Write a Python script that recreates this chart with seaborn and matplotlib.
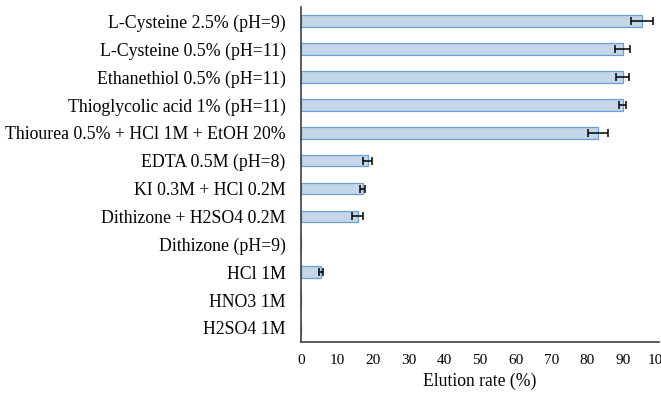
import matplotlib
matplotlib.use("Agg")
import matplotlib.pyplot as plt
import seaborn as sns
import pandas as pd

eluents = [
    "L-Cysteine 2.5% (pH=9)",
    "L-Cysteine 0.5% (pH=11)",
    "Ethanethiol 0.5% (pH=11)",
    "Thioglycolic acid 1% (pH=11)",
    "Thiourea 0.5% + HCl 1M + EtOH 20%",
    "EDTA 0.5M (pH=8)",
    "KI 0.3M + HCl 0.2M",
    "Dithizone + H2SO4 0.2M",
    "Dithizone (pH=9)",
    "HCl 1M",
    "HNO3 1M",
    "H2SO4 1M",
]
elution_rate = [95.3, 89.8, 89.8, 89.8, 83.0, 18.6, 17.2, 15.8, 0.0, 5.7, 0.0, 0.0]
error = [3.0, 2.2, 1.9, 1.0, 2.8, 1.3, 0.65, 1.5, 0.0, 0.55, 0.0, 0.0]

df = pd.DataFrame({"eluent": eluents, "rate": elution_rate, "err": error})

sns.set_style("white")
plt.rcParams['font.family'] = ['Liberation Serif', 'DejaVu Serif']
plt.rcParams['text.color'] = 'black'
plt.rcParams['xtick.color'] = 'black'
plt.rcParams['ytick.color'] = 'black'
plt.rcParams['axes.labelcolor'] = 'black'

fig = plt.figure(figsize=(6.61, 3.99), dpi=100)
ax = fig.add_axes([0.4554, 0.143, 0.5416, 0.839])

sns.barplot(data=df, x="rate", y="eluent", orient="h", color="#BDD7EE",
            edgecolor="#6A9FD8", linewidth=0.9, width=0.42, errorbar=None, ax=ax)

ys = range(len(eluents))
mask = [e > 0 for e in error]
ax.errorbar([r for r, m in zip(elution_rate, mask) if m],
            [y for y, m in zip(ys, mask) if m],
            xerr=[e for e, m in zip(error, mask) if m],
            fmt="none", ecolor="black", elinewidth=1.1, capsize=3, capthick=1.1)

ax.set_xlim(0, 100)
ax.set_ylim(len(eluents) - 0.5, -0.5)
ax.set_xticks(range(0, 101, 10))
ax.tick_params(axis="both", length=0)
ax.tick_params(axis="y", pad=11, labelsize=12.8)
ax.tick_params(axis="x", pad=9, labelsize=11)
ax.set_ylabel("")
ax.set_xlabel("Elution rate (%)", fontsize=12.7, labelpad=4)

for s in ["top", "right"]:
    ax.spines[s].set_visible(False)
for s in ["left", "bottom"]:
    ax.spines[s].set_color("#404040")
    ax.spines[s].set_linewidth(1.2)

fig.savefig("out.png", dpi=100)
